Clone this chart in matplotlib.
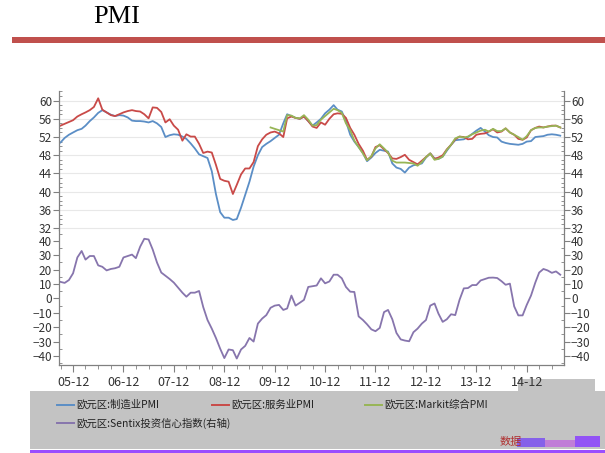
import numpy as np
import pandas as pd
from matplotlib import pyplot as plt
import matplotlib.dates as mdates
from matplotlib.ticker import MultipleLocator
from matplotlib.patches import Rectangle
from matplotlib.lines import Line2D

plt.rcParams['font.family'] = ['Liberation Sans Narrow', 'Noto Sans CJK SC', 'DejaVu Sans']

# monthly, Sep 2005 .. Aug 2015
months = pd.date_range('2005-09-01', periods=120, freq='MS')

mfg = [50.8, 51.8, 52.5, 53.0, 53.5, 53.8, 54.5, 55.5, 56.3, 57.3, 57.9, 57.4,
       56.9, 56.6, 56.8, 56.7, 56.3, 55.6, 55.5, 55.5, 55.4, 55.2, 55.5, 55.0,
       54.2, 52.0, 52.4, 52.6, 52.5, 52.1, 51.6, 50.6, 49.5, 48.2, 47.8, 47.4,
       44.5, 39.5, 35.5, 34.3, 34.3, 33.8, 34.0, 36.5, 39.3, 42.2, 45.5, 48.0,
       49.8, 50.5, 51.1, 51.8, 52.5, 55.0, 57.0, 56.6, 56.2, 56.0, 56.5, 55.5,
       54.5, 55.2, 56.0, 57.2, 58.0, 59.0, 58.0, 57.6, 55.5, 52.5, 51.0, 49.8,
       48.5, 46.7, 47.5, 48.5, 49.2, 49.0, 48.8, 46.2, 45.3, 45.0, 44.2, 45.3,
       45.8, 46.0, 46.2, 47.5, 48.4, 47.3, 47.2, 47.7, 49.0, 50.3, 51.3, 51.4,
       51.5, 52.0, 52.7, 53.4, 54.0, 53.2, 52.4, 52.0, 51.9, 51.0, 50.7, 50.5,
       50.4, 50.3, 50.5, 51.0, 51.1, 52.0, 52.1, 52.2, 52.5, 52.6, 52.5, 52.3]

services = [54.5, 54.9, 55.3, 55.7, 56.5, 57.0, 57.4, 57.9, 58.6, 60.5, 58.0, 57.4,
            56.8, 56.6, 57.0, 57.4, 57.7, 57.9, 57.7, 57.6, 57.0, 56.1, 58.5, 58.4,
            57.5, 55.2, 55.9, 54.5, 53.6, 51.2, 52.6, 52.1, 52.1, 50.5, 48.5, 48.8,
            48.6, 45.9, 42.8, 42.4, 42.2, 39.5, 41.5, 43.8, 45.1, 45.1, 46.5, 50.0,
            51.5, 52.5, 53.0, 53.2, 52.8, 52.0, 56.1, 56.5, 56.2, 56.0, 56.5, 55.5,
            54.3, 54.0, 55.2, 54.7, 56.0, 57.0, 57.2, 57.1, 56.2, 54.0, 52.5, 50.5,
            49.0, 47.0, 47.7, 49.8, 50.2, 49.3, 48.5, 47.3, 47.2, 47.6, 48.1, 47.0,
            46.5, 46.0, 46.8, 47.6, 48.4, 47.2, 47.5, 48.0, 49.3, 50.3, 51.5, 52.1,
            52.0, 51.5, 51.6, 52.5, 52.7, 52.8, 53.2, 53.7, 53.0, 53.2, 53.9, 53.0,
            52.5, 51.6, 51.4, 51.9, 53.5, 54.0, 54.3, 54.1, 54.3, 54.5, 54.5, 54.1]

composite = [np.nan] * 50 + [
    54.1, 53.8, 53.5, 53.2, 56.8, 56.7, 56.2, 56.1, 56.8, 55.8,
    54.5, 54.6, 55.8, 56.6, 57.4, 58.2, 57.9, 57.3, 55.0, 53.5, 51.2, 49.8,
    48.4, 46.9, 47.8, 49.5, 50.4, 49.5, 48.6, 46.8, 46.4, 46.4, 46.4, 46.3,
    46.2, 45.7, 46.5, 47.6, 48.4, 47.0, 47.2, 47.7, 49.2, 50.3, 51.7, 52.1,
    51.9, 52.1, 52.6, 53.0, 53.4, 53.6, 53.2, 53.8, 53.3, 53.3, 53.9, 53.0,
    52.5, 52.0, 51.4, 52.2, 53.5, 54.0, 54.1, 54.1, 54.3, 54.4, 54.5, 54.1]

sentix = [11.5, 10.8, 12.8, 17.5, 28.5, 33.0, 27.0, 29.5, 29.5, 23.0, 22.0, 19.5,
          20.5, 21.0, 22.0, 28.5, 29.5, 30.5, 28.0, 36.0, 41.5, 41.0, 34.0, 25.0,
          18.0, 15.8, 13.5, 11.0, 7.5, 4.0, 1.2, 4.0, 4.0, 5.2, -6.0, -15.0,
          -21.0, -27.5, -35.0, -41.5, -35.5, -36.0, -41.8, -35.5, -33.0, -27.5, -30.0, -17.5,
          -14.0, -11.6, -6.5, -5.0, -4.5, -8.0, -7.0, 2.0, -5.0, -3.0, -1.0, 8.0,
          8.5, 9.0, 14.0, 10.5, 11.8, 16.5, 16.5, 14.0, 8.0, 4.7, 4.5, -12.5,
          -15.0, -18.0, -21.5, -22.8, -20.5, -9.5, -8.0, -14.5, -24.0, -28.5, -29.3, -29.8,
          -23.5, -21.0, -17.5, -15.0, -5.0, -3.5, -10.5, -16.3, -14.5, -11.0, -11.6, -1.0,
          7.0, 7.2, 9.3, 9.3, 12.5, 13.5, 14.4, 14.5, 14.2, 12.0, 9.5, 10.3,
          -5.5, -11.8, -11.8, -4.5, 2.0, 11.0, 18.0, 20.5, 19.5, 17.8, 18.8, 16.5]

labels = ['欧元区:制造业PMI', '欧元区:服务业PMI', '欧元区:Markit综合PMI',
          '欧元区:Sentix投资信心指数(右轴)']
colors = ['#5b8ec6', '#c94a48', '#97b556', '#8775ad']

W, H = 605, 453
fig = plt.figure(figsize=(W / 100, H / 100), dpi=100)

def box(x0, y0, x1, y1):
    return [x0 / W, 1 - y1 / H, (x1 - x0) / W, (y1 - y0) / H]

def band(x0, y0, x1, y1, c, **kw):
    fig.patches.append(Rectangle((x0 / W, 1 - y1 / H), (x1 - x0) / W, (y1 - y0) / H,
                                 transform=fig.transFigure, color=c, lw=0, zorder=-1, **kw))

# header
fig.text(93 / W, 1 - 17 / H, 'PMI', fontsize=19, family='Liberation Serif',
         va='center', ha='left')
band(12, 37, 605, 43, '#c0504d')

# legend band
band(30, 391, 605, 449, '#c3c3c3')
band(518, 379, 595, 391, '#c3c3c3')
band(30, 449.5, 605, 453, '#9b4dff')

ax1 = fig.add_axes(box(59, 91, 564, 230))
ax2 = fig.add_axes(box(59, 230, 564, 365), sharex=ax1)

ax1.plot(months, mfg, color=colors[0], lw=1.3)
ax1.plot(months, services, color=colors[1], lw=1.3)
ax1.plot(months, composite, color=colors[2], lw=1.3)
ax2.plot(months, sentix, color=colors[3], lw=1.3)

ax1.set_ylim(31.6, 62.1)
ax2.set_ylim(-46.3, 47.6)
ax1.set_xlim(pd.Timestamp('2005-08-21'), pd.Timestamp('2015-08-28'))

spine_c = '#808080'
for ax in (ax1, ax2):
    for s in ax.spines.values():
        s.set_color(spine_c)
        s.set_linewidth(0.9)
    ax.spines['top'].set_visible(False)
    ax.tick_params(axis='y', which='both', left=True, right=True, labelleft=True,
                   labelright=True, colors=spine_c, labelcolor='#333333', labelsize=8.5,
                   pad=1)
    ax.tick_params(axis='y', which='major', direction='out', length=4)
    ax.tick_params(axis='y', which='minor', direction='in', length=2.5)
ax1.spines['bottom'].set_visible(False)

ax1.set_yticks(np.arange(32, 61, 4))
ax1.yaxis.set_minor_locator(MultipleLocator(1))
ax1.grid(axis='y', color='#e8e8e8', lw=0.8)
ax1.set_axisbelow(True)
ax2.set_yticks(np.arange(-40, 41, 10))
ax2.yaxis.set_minor_locator(MultipleLocator(5))

ax1.tick_params(axis='x', which='both', bottom=False, labelbottom=False)
ax2.xaxis.set_major_locator(mdates.MonthLocator(bymonth=12))
ax2.xaxis.set_minor_locator(mdates.MonthLocator(bymonth=[3, 6, 9, 12]))
ax2.xaxis.set_major_formatter(mdates.DateFormatter('%y-%m'))
ax2.tick_params(axis='x', which='major', direction='out', length=5, colors=spine_c,
                labelcolor='#333333', labelsize=9, pad=3)
ax2.tick_params(axis='x', which='minor', direction='out', length=3, colors=spine_c)

# legend entries
entries = [(57, 405), (212, 405), (365, 405), (57, 423)]
for (lx, ly), lab, c in zip(entries, labels, colors):
    fig.lines.append(Line2D([lx / W, (lx + 17) / W], [1 - ly / H] * 2,
                            transform=fig.transFigure, color=c, lw=1.4))
    fig.text((lx + 19) / W, 1 - ly / H, lab, fontsize=7.5, va='center', ha='left',
             color='#222222')

# source mark (garbled in the original)
fig.text(500 / W, 1 - 442 / H, '数据', fontsize=8, color='#b03030', style='italic',
         va='center', ha='left')
band(517, 438, 545, 447, '#7a50f0', alpha=0.85)
band(545, 440, 575, 447, '#c060e0', alpha=0.7)
band(575, 436, 600, 447, '#8a40ff', alpha=0.85)

fig.savefig('out.png', dpi=100)
